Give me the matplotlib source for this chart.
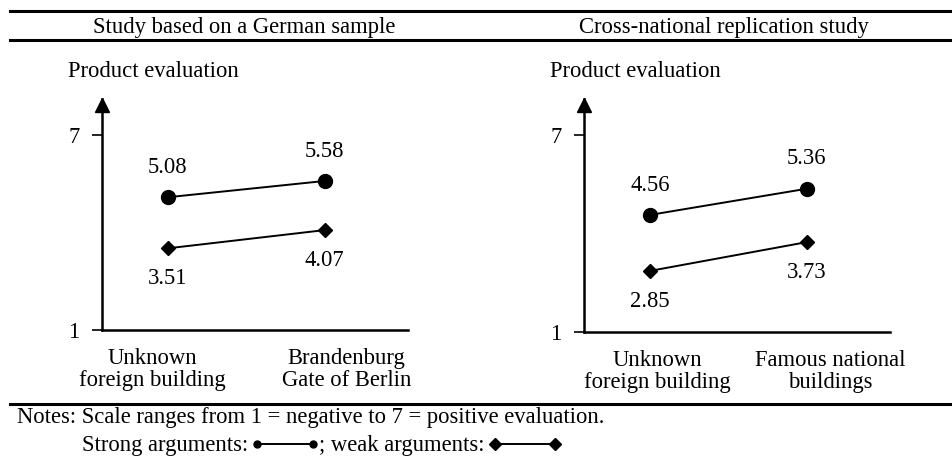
import matplotlib
matplotlib.use("Agg")
import matplotlib.pyplot as plt
from matplotlib.lines import Line2D
from matplotlib import transforms

plt.rcParams['font.family'] = ['Liberation Serif', 'DejaVu Serif']
plt.rcParams['font.size'] = 16.3

# data
panel_titles = ["Study based on a German sample", "Cross-national replication study"]
categories_left = ["Unknown\nforeign building", "Brandenburg\nGate of Berlin"]
categories_right = ["Unknown\nforeign building", "Famous national\nbuildings"]
strong_left = [5.08, 5.58]
weak_left = [3.51, 4.07]
strong_right = [4.56, 5.36]
weak_right = [2.85, 3.73]
y_label = "Product evaluation"
notes = "Notes: Scale ranges from 1 = negative to 7 = positive evaluation."

W, H = 953, 457
fig = plt.figure(figsize=(W / 100, H / 100), dpi=100)

def fx(px):
    return px / W

def fy(py):
    return 1 - py / H

# horizontal rules
for yy in (11, 40, 404):
    fig.add_artist(Line2D([fx(10), 1], [fy(yy), fy(yy)], color='k', lw=2.2))

fig.text(fx(244), fy(27), panel_titles[0], ha='center', va='center')
fig.text(fx(724), fy(27), panel_titles[1], ha='center', va='center')

panels = [
    (101.7, 330, categories_left, strong_left, weak_left, [-11, 16]),
    (584, 331.5, categories_right, strong_right, weak_right, [5, 17]),
]

for x0, ybot, cats, strong, weak, lab_dx in panels:
    ytop = 99
    ax = fig.add_axes([fx(x0), fy(ybot), fx(306), (ybot - ytop) / H])
    ax.set_xlim(-0.42, 1.53)
    ax.set_ylim(1, 8.1)
    for s in ('top', 'right'):
        ax.spines[s].set_visible(False)
    ax.spines['left'].set_linewidth(1.8)
    ax.spines['bottom'].set_linewidth(1.8)
    ax.set_xticks([])
    ax.set_yticks([1, 7])
    ax.set_yticklabels(['1', '7'])
    ax.tick_params(axis='y', length=7, width=1.2, pad=9, direction='out')
    ax.patch.set_visible(False)

    # arrow head on y-axis
    tr = transforms.offset_copy(ax.transAxes, fig=fig, y=-4.5, units='points')
    ax.plot([0], [1], marker='^', ms=10, color='k', transform=tr, clip_on=False)

    xs = list(range(len(cats)))
    ax.plot(xs, strong, color='k', lw=1.4, marker='o', ms=10, clip_on=False)
    ax.plot(xs, weak, color='k', lw=1.4, marker='D', ms=6.8, clip_on=False)
    for i in xs:
        ax.annotate(f"{strong[i]:.2f}", xy=(i, strong[i]), xytext=(0, 21.5),
                    textcoords='offset points', ha='center', va='center')
        ax.annotate(f"{weak[i]:.2f}", xy=(i, weak[i]), xytext=(0, -22),
                    textcoords='offset points', ha='center', va='center')
        ax.annotate(cats[i], xy=(i, 1), xytext=(lab_dx[i], -13),
                    textcoords='offset points', ha='center', va='top',
                    linespacing=1.08, annotation_clip=False)

    ax.text(-0.11, 1.12, y_label, transform=ax.transAxes, ha='left', va='center')

# notes
fig.text(fx(17), fy(418), notes, ha='left', va='center')

r = fig.canvas.get_renderer()
t1 = fig.text(fx(82), fy(446), "Strong arguments:", ha='left', va='center')
x = t1.get_window_extent(r).x1 + 9
fig.add_artist(Line2D([fx(x), fx(x + 56)], [fy(444), fy(444)], color='k', lw=1.4,
                      marker='o', ms=5))
t2 = fig.text(fx(x + 62), fy(446), "; weak arguments:", ha='left', va='center')
x = t2.get_window_extent(r).x1 + 10
fig.add_artist(Line2D([fx(x), fx(x + 60)], [fy(444), fy(444)], color='k', lw=1.4,
                      marker='D', ms=6.5))

fig.savefig("out.png", dpi=100)
